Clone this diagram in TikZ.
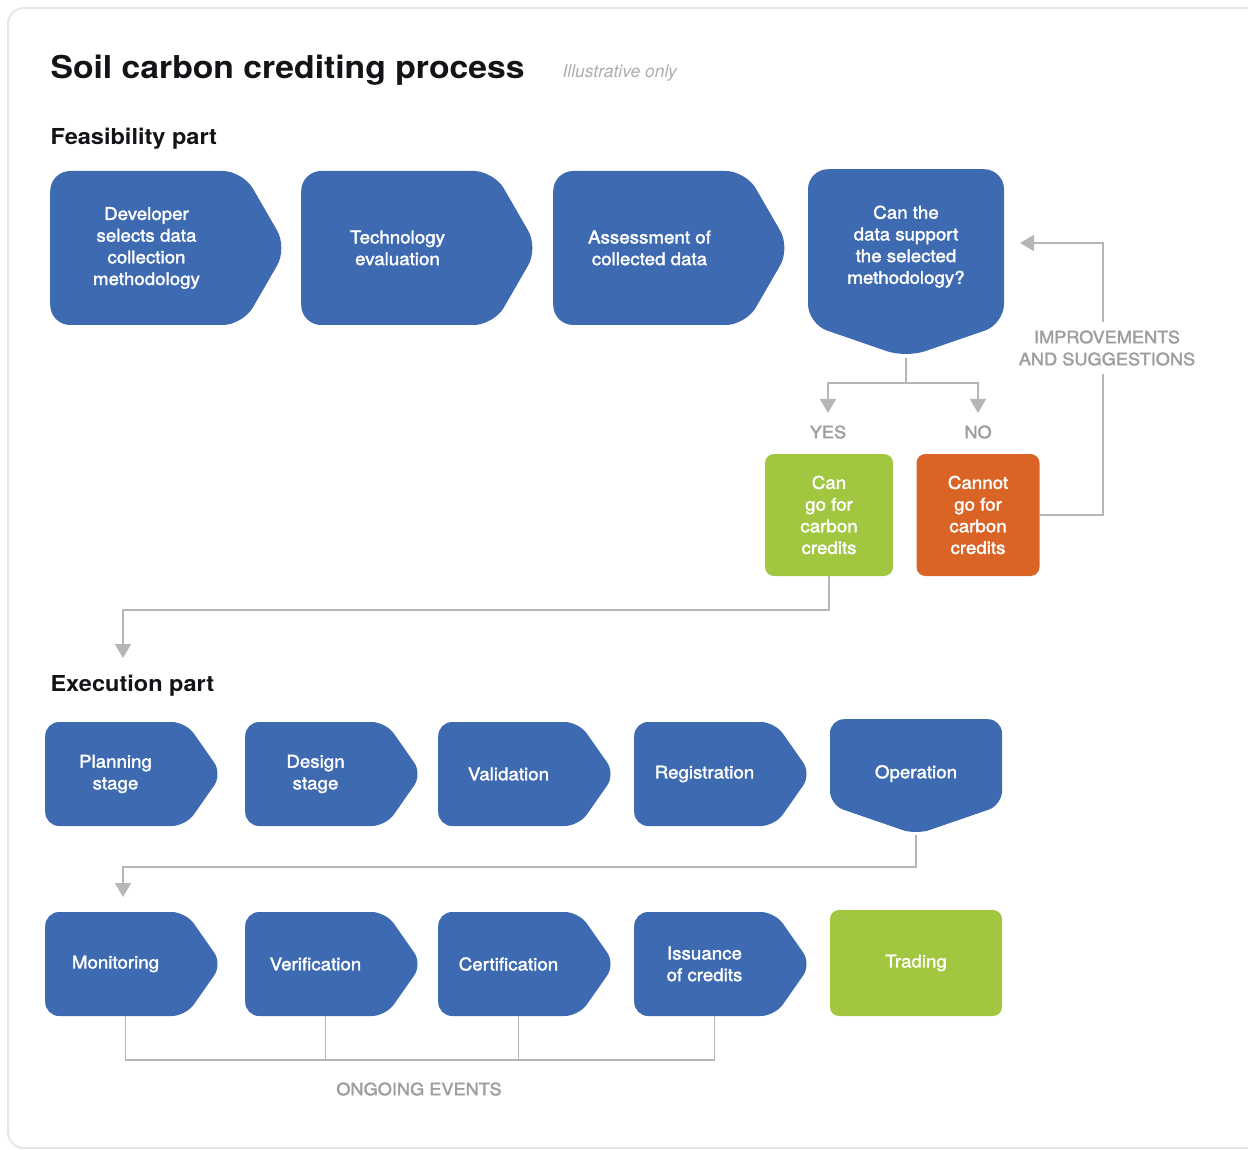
\documentclass[tikz,border=0pt]{standalone}
\usepackage{fontspec}
\setmainfont{TeX Gyre Heros}
\setsansfont{TeX Gyre Heros}
\newfontfamily\boxfont{TeX Gyre Heros}[FakeBold=2, FakeStretch=1.07]
\newfontfamily\headfont{TeX Gyre Heros}[FakeStretch=1.07]
\usepackage{tikz}
\usetikzlibrary{
  arrows.meta,
  shapes.symbols,
  positioning,
  calc
}
\definecolor{cblue}{RGB}{61,106,176}
\definecolor{cgreen}{RGB}{161,198,63}
\definecolor{corange}{RGB}{217,100,37}
\definecolor{cline}{RGB}{182,182,182}
\definecolor{clabel}{RGB}{158,158,158}
\definecolor{cdark}{RGB}{20,20,24}
\definecolor{cframe}{RGB}{230,230,230}

\begin{document}
\begin{tikzpicture}[x=1pt, y=-1pt,
  stage/.style={shape=signal, signal to=east, signal pointer angle=110,
                fill=cblue, text=white, rounded corners=14pt, inner sep=0pt,
                minimum width=177pt, minimum height=104pt, anchor=west,
                font=\boxfont\fontsize{17.5}{21.7}\selectfont, align=center},
  bigstage/.style={stage, signal pointer angle=120, rounded corners=20pt,
                   minimum width=237pt, minimum height=154pt},
  ask/.style={stage, signal to=south, signal pointer angle=142, anchor=north},
  result/.style={rectangle, fill=#1, text=white, rounded corners=9pt, inner sep=0pt,
                 font=\boxfont\fontsize{17.5}{21.7}\selectfont, align=center},
  arr/.style={-{Triangle[width=16pt,length=14pt]}, draw=cline, line width=1.8pt},
  line/.style={draw=cline, line width=1.8pt},
  tag/.style={text=clabel, font=\boxfont\fontsize{17}{22}\selectfont, align=center},
  head/.style={font=\headfont\bfseries\fontsize{22}{26}\selectfont, text=cdark, anchor=west}
]
  \useasboundingbox (0,0) rectangle (1248,1150);
  \clip (0,0) rectangle (1248,1150);
  \draw[cframe, line width=2pt, rounded corners=16pt] (8,8) rectangle (1280,1148);

  % titles
  \node[anchor=west, font=\headfont\bfseries\fontsize{31.5}{36}\selectfont, text=cdark] (title) at (47,70) {Soil carbon crediting process};
  \node[anchor=west, font=\itshape\fontsize{17.5}{20}\selectfont, text=clabel!85] (note) at (559,73) {Illustrative only};
  \node[head] (feas) at (47,139) {Feasibility part};
  \node[head] (exec) at (47,686) {Execution part};

  % feasibility part
  \node[bigstage] (dev)    at (50,248)  {Developer\\selects data\\collection\\methodology};
  \node[bigstage] (tech)   at (301,248) {Technology\\evaluation};
  \node[bigstage] (assess) at (553,248) {Assessment of\\collected data};
  \node[ask, rounded corners=20pt, minimum width=196pt, minimum height=175pt] (check) at (906,169)
    {Can the\\data support\\the selected\\methodology?};

  \node[tag] (yes) at (828,432) {YES};
  \node[tag] (no)  at (978,432) {NO};
  \node[result=cgreen,  minimum width=128pt, minimum height=122pt] (can)    at (829,515) {Can\\go for\\carbon\\credits};
  \node[result=corange, minimum width=123pt, minimum height=122pt] (cannot) at (978,515) {Cannot\\go for\\carbon\\credits};

  \draw[arr, shorten >=9pt] (check.south) -- ++(0,25) -| (yes);
  \draw[arr, shorten >=9pt] (check.south) -- ++(0,25) -| (no);
  \coordinate (back) at (1020,243);
  \draw[arr] (cannot.east) -| (1103,243) -- (back);
  \node[tag, fill=white, inner ysep=8pt] (tips) at (1107,348) {IMPROVEMENTS\\AND SUGGESTIONS};

  % execution part
  \coordinate (in1) at (123,658);
  \draw[arr] (can.south) -- ++(0,34) -| (in1);

  \node[stage] (plan)  at (45,774)  {Planning\\stage};
  \node[stage] (design) at (245,774) {Design\\stage};
  \node[stage] (valid) at (438,774) {Validation};
  \node[stage] (reg)   at (634,774) {Registration};
  \node[ask, minimum width=172pt, minimum height=100pt, text height=36pt] (op) at (916,719) {Operation};

  \coordinate (in2) at (123,897);
  \draw[arr] (op.south) -- ++(0,32) -| (in2);

  \node[stage] (mon)  at (45,964)  {Monitoring};
  \node[stage] (ver)  at (245,964) {Verification};
  \node[stage] (cert) at (438,964) {Certification};
  \node[stage] (iss)  at (634,964) {Issuance\\of credits};
  \node[result=cgreen, minimum width=172pt, minimum height=106pt] (trade) at (916,963) {Trading};

  % ongoing events bracket
  \draw[line] ([xshift=10pt]mon.south) -- ++(0,44) -| ([xshift=10pt]iss.south);
  \draw[line] ([xshift=10pt]ver.south) -- ++(0,44);
  \draw[line] ([xshift=10pt]cert.south) -- ++(0,44);
  \node[tag] (ongoing) at (419,1089) {ONGOING EVENTS};
\end{tikzpicture}
\end{document}
